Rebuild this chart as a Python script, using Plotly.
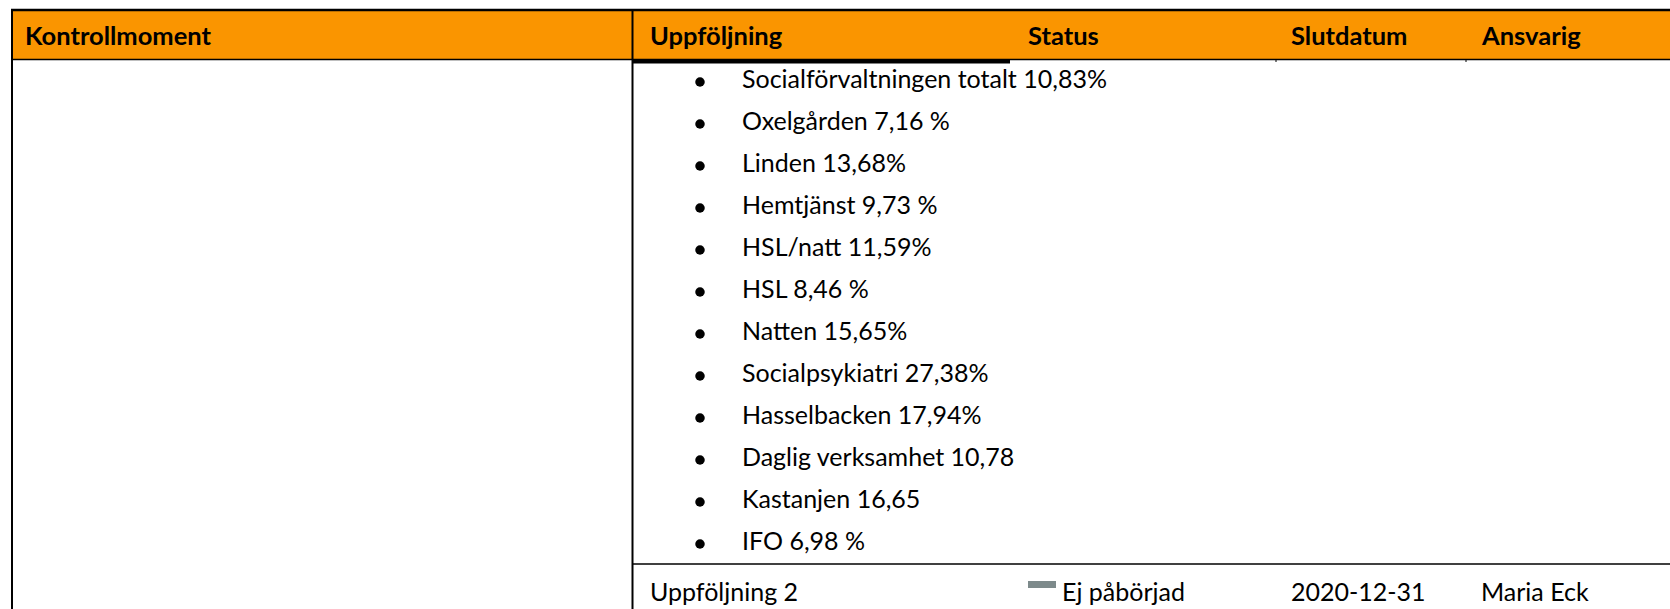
import plotly.graph_objects as go

# Tabellens innehåll
kolumner = ["Kontrollmoment", "Uppföljning", "Status", "Slutdatum", "Ansvarig"]

enheter = [
    "Socialförvaltningen totalt", "Oxelgården", "Linden", "Hemtjänst",
    "HSL/natt", "HSL", "Natten", "Socialpsykiatri", "Hasselbacken",
    "Daglig verksamhet", "Kastanjen", "IFO",
]
andelar = [
    "10,83%", "7,16 %", "13,68%", "9,73 %", "11,59%", "8,46 %",
    "15,65%", "27,38%", "17,94%", "10,78", "16,65", "6,98 %",
]

rad_2 = ["Uppföljning 2", "Ej påbörjad", "2020-12-31", "Maria Eck"]

# Layout (pixlar)
W, H = 1670, 609
ORANGE = "#FA9500"
FONT = "Lato"
kol_x = [23, 648, 1026, 1289, 1479]
rad2_x = [648, 1060, 1289, 1479]
rad_topp, rad_steg = 82, 42


def px(x):
    return x / W


def py(y):
    return 1 - y / H


rader = list(range(len(enheter)))
texter = [f"{e} {a}" for e, a in zip(enheter, andelar)]

fig = go.Figure()

# punkter
fig.add_trace(go.Scatter(
    x=[700] * len(rader),
    y=rader,
    mode="markers",
    marker=dict(symbol="circle", size=9.5, color="black"),
    hoverinfo="skip",
))

# text i punktlistan
fig.add_trace(go.Scatter(
    x=[742] * len(rader),
    y=rader,
    mode="text",
    text=texter,
    textposition="middle right",
    textfont=dict(family=FONT, size=25, color="black"),
    hoverinfo="skip",
))

shapes = [
    # rubrikrad
    dict(type="rect", xref="paper", yref="paper", x0=px(12), x1=1,
         y0=py(59), y1=py(10), fillcolor=ORANGE, line=dict(width=0), layer="below"),
    dict(type="line", xref="paper", yref="paper", x0=px(11), x1=1,
         y0=py(10), y1=py(10), line=dict(color="black", width=2.5)),
    dict(type="line", xref="paper", yref="paper", x0=px(11), x1=1,
         y0=py(59.5), y1=py(59.5), line=dict(color="black", width=1.5)),
    # vertikala linjer
    dict(type="line", xref="paper", yref="paper", x0=px(12), x1=px(12),
         y0=py(9), y1=0, line=dict(color="black", width=2)),
    dict(type="line", xref="paper", yref="paper", x0=px(632.5), x1=px(632.5),
         y0=py(9), y1=0, line=dict(color="black", width=2)),
    # tjock list under rubriken
    dict(type="rect", xref="paper", yref="paper", x0=px(633), x1=px(1010),
         y0=py(63.5), y1=py(59.5), fillcolor="black", line=dict(width=0)),
    # små streck
    dict(type="line", xref="paper", yref="paper", x0=px(1276), x1=px(1276),
         y0=py(59), y1=py(62), line=dict(color="black", width=1)),
    dict(type="line", xref="paper", yref="paper", x0=px(1466), x1=px(1466),
         y0=py(59), y1=py(62), line=dict(color="black", width=1)),
    # radavskiljare
    dict(type="line", xref="paper", yref="paper", x0=px(632), x1=1,
         y0=py(564), y1=py(564), line=dict(color="black", width=1.5)),
    # statusmarkering
    dict(type="rect", xref="paper", yref="paper", x0=px(1028), x1=px(1056),
         y0=py(588), y1=py(581), fillcolor="#7D8A8B", line=dict(width=0)),
]

annotations = []
for namn, x in zip(kolumner, kol_x):
    annotations.append(dict(
        text=f"<b>{namn}</b>", xref="paper", yref="paper",
        x=px(x), y=py(35), xanchor="left", yanchor="middle",
        showarrow=False, font=dict(family=FONT, size=25.5, color="black"),
    ))
for txt, x in zip(rad_2, rad2_x):
    annotations.append(dict(
        text=txt, xref="paper", yref="paper",
        x=px(x), y=py(591), xanchor="left", yanchor="middle",
        showarrow=False, font=dict(family=FONT, size=25, color="black"),
    ))

fig.update_layout(
    width=W,
    height=H,
    margin=dict(l=0, r=0, t=0, b=0),
    paper_bgcolor="white",
    plot_bgcolor="white",
    showlegend=False,
    shapes=shapes,
    annotations=annotations,
    xaxis=dict(range=[0, W], visible=False, fixedrange=True),
    yaxis=dict(range=[(H - rad_topp) / rad_steg, -rad_topp / rad_steg],
               visible=False, fixedrange=True),
)

fig.write_html(
    "out.html",
    config={"displayModeBar": False},
    post_script="document.body.style.margin='0';document.body.style.overflow='hidden';",
)
